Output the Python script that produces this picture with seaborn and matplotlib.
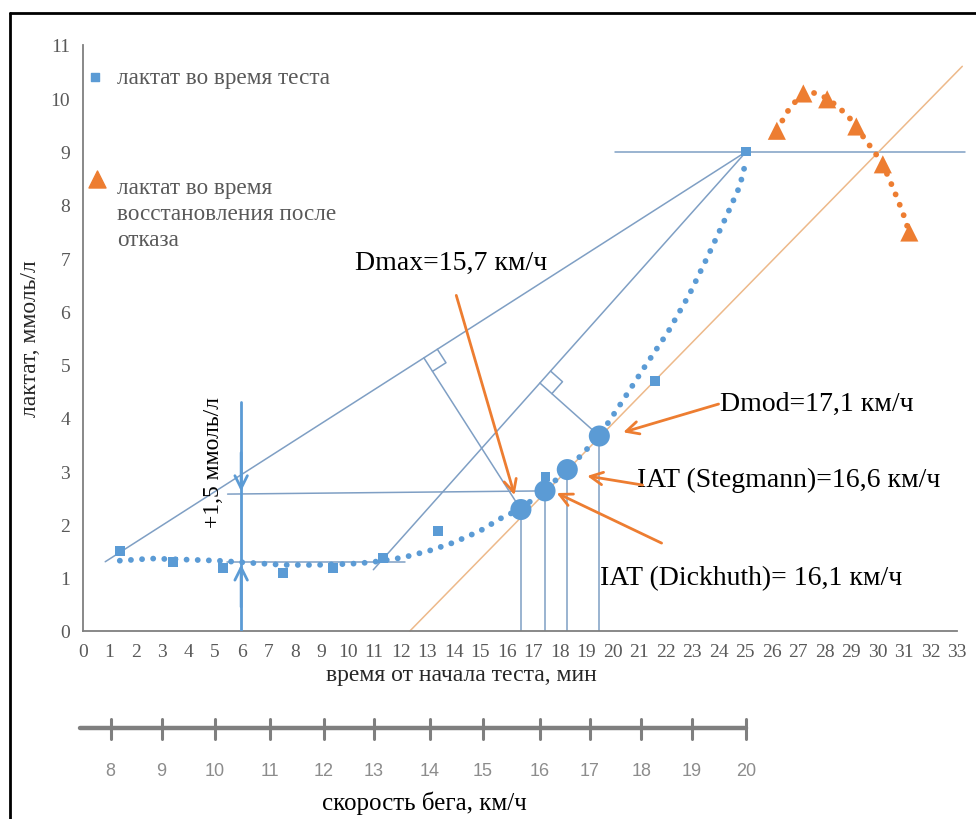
import numpy as np
import matplotlib
matplotlib.use("Agg")
import matplotlib.pyplot as plt
from matplotlib.lines import Line2D
import seaborn as sns

# lactate during the test (time, min -> mmol/l)
test_time = [1.4, 3.4, 5.3, 7.55, 9.45, 11.35, 13.4, 17.47, 21.6, 25.05]
test_lact = [1.5, 1.29, 1.18, 1.09, 1.18, 1.37, 1.87, 2.9, 4.69, 9.0]

# lactate during recovery after failure
rec_time = [26.2, 27.2, 28.1, 29.2, 30.2, 31.2]
rec_lact = [9.39, 10.09, 9.98, 9.47, 8.76, 7.48]

# trend curves
fit_time = [1.4, 2.6, 3.9, 5.1, 6.3, 7.6, 8.8, 10.1, 10.9, 12.1, 13.1, 14.0, 15.0,
            15.9, 16.5, 17.4, 18.3, 19.5, 20.3, 21.2, 22.1, 22.9, 23.6, 24.3, 24.8, 25.05]
fit_lact = [1.32, 1.36, 1.34, 1.32, 1.28, 1.24, 1.24, 1.26, 1.29, 1.38, 1.51, 1.66, 1.88,
            2.15, 2.28, 2.63, 3.03, 3.66, 4.26, 4.95, 5.62, 6.32, 7.04, 7.79, 8.35, 8.85]
rec_fit_time = [26.2, 26.6, 27.0, 27.55, 28.0, 28.5, 29.0, 29.5, 29.9, 30.2, 30.6, 30.95, 31.2]
rec_fit_lact = [9.4, 9.75, 10.0, 10.11, 10.02, 9.85, 9.6, 9.25, 8.98, 8.76, 8.3, 7.86, 7.48]

# threshold points: Dmax, Dickhuth, Stegmann, Dmod
thr_time = [16.54, 17.45, 18.29, 19.5]
thr_lact = [2.28, 2.63, 3.03, 3.66]

# construction lines
dmax_line = [(0.85, 1.3), (25.05, 9.0)]
dmod_line = [(10.97, 1.15), (25.05, 9.0)]
tangent_line = [(12.35, 0.0), (33.2, 10.6)]
max_level = [(20.1, 9.0), (33.3, 9.0)]
baseline = [(5.43, 1.3), (12.15, 1.3)]
plus15_level = [(5.47, 2.57), (17.45, 2.63)]
baseline_time = 5.98
baseline_top = 4.3

# speed scale: km/h and the test time where each tick sits
speed_vals = [8, 9, 10, 11, 12, 13, 14, 15, 16, 17, 18, 19, 20]
speed_time = [1.05, 2.98, 4.99, 7.07, 9.09, 10.98, 13.1, 15.1, 17.25, 19.15, 21.08, 23.0, 25.05]

annotations = [
    ("Dmax=15,7 км/ч", (10.28, 6.92), (14.1, 6.3), (16.3, 2.55)),
    ("Dmod=17,1 км/ч", (24.05, 4.28), (24.0, 4.26), (20.4, 3.73)),
    ("IAT (Stegmann)=16,6 км/ч", (20.92, 2.85), (21.13, 2.74), (19.04, 2.91)),
    ("IAT (Dickhuth)= 16,1 км/ч", (19.52, 1.01), (21.85, 1.65), (17.89, 2.59)),
]

BLUE = "#5B9BD5"
LINE = "#7F9FC4"
ORANGE = "#ED7D31"
TAN = "#EDB98A"
GREY = "#595959"

sns.set_style("white")
plt.rcParams["font.family"] = ["Liberation Serif", "DejaVu Serif"]

fig = plt.figure(figsize=(9.76, 8.2), dpi=100)
ax = fig.add_axes([82.7 / 976, 188 / 820, 874.3 / 976, 586 / 820])
ax.set_xlim(0, 33)
ax.set_ylim(0, 11)
T = ax.transData


def seg(points, **kw):
    (x0, y0), (x1, y1) = points
    ax.plot([x0, x1], [y0, y1], **kw)


# straight construction lines
seg(dmax_line, color=LINE, lw=1.1, zorder=2)
seg(dmod_line, color=LINE, lw=1.1, zorder=2)
seg(max_level, color=LINE, lw=1.1, zorder=2, clip_on=False)
seg(baseline, color=LINE, lw=1.1, zorder=2)
seg(plus15_level, color=LINE, lw=1.1, zorder=2)
seg(tangent_line, color=TAN, lw=1.1, zorder=2, clip_on=False)


def perpendicular(pt, line):
    pa, pb, pp = T.transform([line[0], line[1], pt])
    d = pb - pa
    t = np.dot(pp - pa, d) / np.dot(d, d)
    f = pa + t * d
    u = d / np.linalg.norm(d)
    v = (pp - f) / np.linalg.norm(pp - f)
    s = 16
    inv = T.inverted()
    a, b = inv.transform([f, pp])
    ax.plot([a[0], b[0]], [a[1], b[1]], color=LINE, lw=1.1, zorder=2)
    sq = inv.transform([f + s * u, f + s * (u + v), f + s * v])
    ax.plot(sq[:, 0], sq[:, 1], color=LINE, lw=1.1, zorder=2)


perpendicular((thr_time[0], thr_lact[0]), dmax_line)
perpendicular((thr_time[3], thr_lact[3]), dmod_line)

# drop lines from thresholds
for tx, ty in zip(thr_time, thr_lact):
    ax.plot([tx, tx], [0, ty], color=LINE, lw=1.1, zorder=2)

# +1.5 mmol/l marker
ax.plot([baseline_time, baseline_time], [0, baseline_top], color=BLUE, lw=2, zorder=3)
arrow_kw = dict(arrowstyle="->,head_length=0.9,head_width=0.45", color=BLUE, lw=2)
ax.annotate("", xy=(baseline_time, plus15_level[0][1]), xytext=(baseline_time, 3.4),
            arrowprops=arrow_kw, zorder=3)
ax.annotate("", xy=(baseline_time, baseline[0][1]), xytext=(baseline_time, 0.4),
            arrowprops=arrow_kw, zorder=3)
ax.text(4.95, 3.19, "+1,5 ммоль/л", rotation=90, ha="center", va="center",
        fontsize=17, color="black")

# dotted trend curves
dots = dict(sort=False, estimator=None, lw=4.2, linestyle=(0, (0.01, 1.9)),
            dash_capstyle="round", zorder=4)
sns.lineplot(x=fit_time, y=fit_lact, ax=ax, color=BLUE, **dots)
sns.lineplot(x=rec_fit_time, y=rec_fit_lact, ax=ax, color=ORANGE, **dots)

# data points
sns.scatterplot(x=test_time, y=test_lact, ax=ax, marker="s", s=50, color=BLUE,
                edgecolor="none", zorder=5)
sns.scatterplot(x=rec_time, y=rec_lact, ax=ax, marker="^", s=170, color=ORANGE,
                edgecolor="none", zorder=5)
sns.scatterplot(x=thr_time, y=thr_lact, ax=ax, marker="o", s=230, color=BLUE,
                edgecolor="none", zorder=6)

# annotations with orange arrows
for label, txy, start, end in annotations:
    ax.text(txy[0], txy[1], label, fontsize=20, color="black", ha="left", va="center")
    ax.annotate("", xy=end, xytext=start,
                arrowprops=dict(arrowstyle="->,head_length=0.9,head_width=0.45",
                                color=ORANGE, lw=2, shrinkA=0, shrinkB=0))

# legend drawn by hand
ax.scatter([0.46], [10.39], marker="s", s=28, color=BLUE, clip_on=False, zorder=5)
ax.text(1.3, 10.39, "лактат во время теста", fontsize=16.7, color=GREY, va="center")
ax.scatter([0.54], [8.48], marker="^", s=150, color=ORANGE, clip_on=False, zorder=5)
ax.text(1.3, 8.52, "лактат во время\nвосстановления после\nотказа", fontsize=16.7,
        color=GREY, va="top", linespacing=1.3)

# axes styling
for side in ("top", "right"):
    ax.spines[side].set_visible(False)
for side in ("left", "bottom"):
    ax.spines[side].set_color("#7F7F7F")
    ax.spines[side].set_linewidth(1.3)
ax.set_xticks(range(0, 34))
ax.set_yticks(range(0, 12))
ax.tick_params(direction="out", length=5, width=1.2, color="#7F7F7F",
               labelsize=14, labelcolor=GREY, pad=4)
ax.set_xlabel("время от начала теста, мин", fontsize=17)
ax.xaxis.set_label_coords(14.3 / 33, -0.056)
ax.set_ylabel("лактат, ммоль/л", fontsize=17, labelpad=7)

# speed scale below
ax2 = fig.add_axes([82.7 / 976, 0, 874.3 / 976, 131 / 820])
ax2.set_xlim(0, 33)
ax2.set_ylim(820, 689)
ax2.axis("off")
ax2.plot([-0.1, speed_time[-1]], [729, 729], color="#7F7F7F", lw=3.2, clip_on=False)
for st, sv in zip(speed_time, speed_vals):
    ax2.plot([st, st], [720, 740], color="#7F7F7F", lw=2.2, clip_on=False)
    ax2.text(st, 772, str(sv), ha="center", va="center", fontsize=13,
             color="#8C8C8C", family=["Liberation Sans", "DejaVu Sans"])
ax2.text(12.9, 803, "скорость бега, км/ч", ha="center", va="center", fontsize=18,
         color="black")

# screenshot frame (left and top edges)
fx = 9.5 / 976
fy = 1 - 13.5 / 820
fig.add_artist(Line2D([fx, fx], [0, fy], color="black", lw=2))
fig.add_artist(Line2D([fx, 1], [fy, fy], color="black", lw=2))

fig.savefig("out.png", dpi=100)
